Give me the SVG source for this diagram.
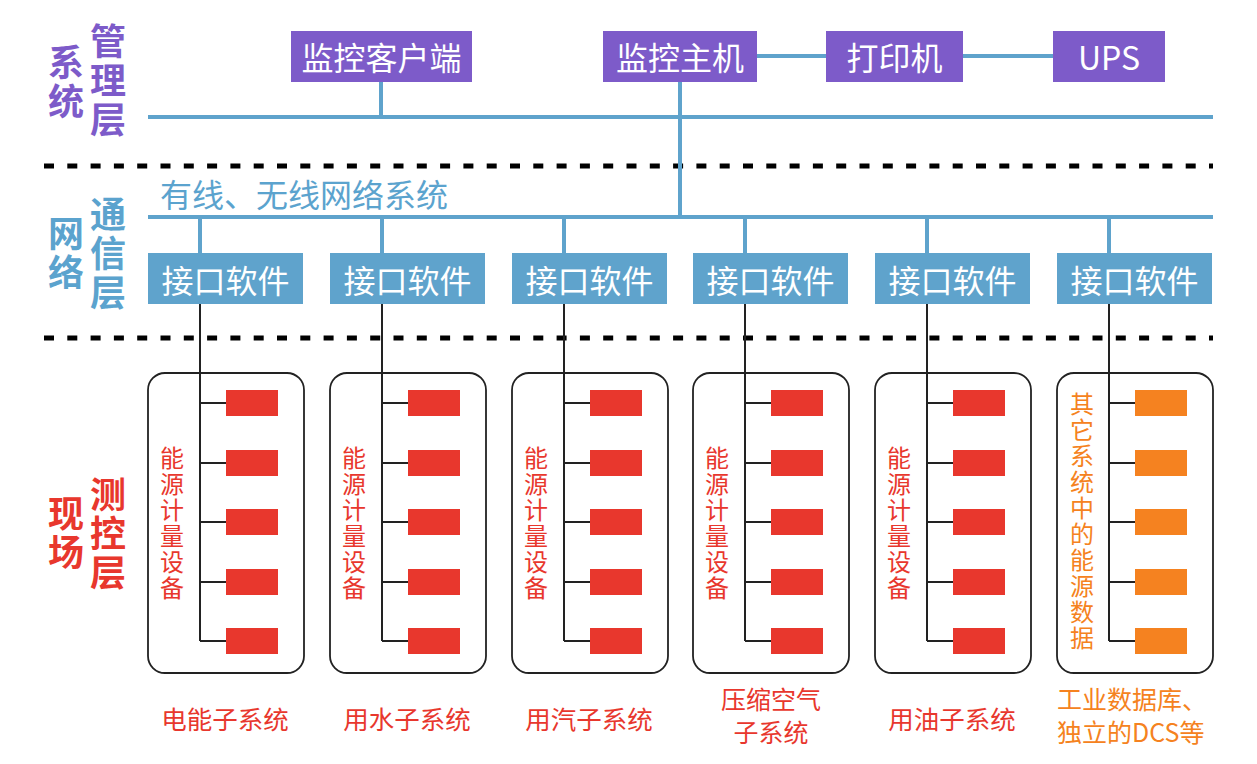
<svg xmlns="http://www.w3.org/2000/svg" width="1257" height="764" viewBox="0 0 1257 764">
<style>
text{font-family:"Noto Sans CJK SC","Noto Sans",sans-serif;}
.layer{font-size:36px;font-weight:bold;writing-mode:vertical-rl;letter-spacing:3px;}
.purple{fill:#7D5BC9;}
.blue{fill:#5BA3CE;}
.red{fill:#E8372D;}
.orange{fill:#F58220;}
.pbox{fill:#7D5BC9;}
.bbox{fill:#5FA3CC;}
.btxt{font-size:32px;fill:#fff;text-anchor:middle;dominant-baseline:central;}
.bus{stroke:#5FA3CC;stroke-width:4;fill:none;}
.dash{stroke:#000;stroke-width:5;stroke-dasharray:10 13.3;fill:none;}
.wire{stroke:#222;stroke-width:2;fill:none;}
.frame{fill:none;stroke:#222;stroke-width:1.8;}
.dev{fill:#E8372D;}
.dev2{fill:#F58220;}
.vt{font-size:24px;writing-mode:vertical-rl;letter-spacing:2px;}
.lbl{font-size:25.5px;text-anchor:middle;dominant-baseline:central;}
</style>
<defs>
<g id="devs">
<rect class="dev" x="226" y="390" width="52" height="26"/>
<rect class="dev" x="226" y="450" width="52" height="26"/>
<rect class="dev" x="226" y="509" width="52" height="26"/>
<rect class="dev" x="226" y="569" width="52" height="26"/>
<rect class="dev" x="226" y="628" width="52" height="26"/>
</g>
<g id="devs2">
<rect class="dev2" x="226" y="390" width="52" height="26"/>
<rect class="dev2" x="226" y="450" width="52" height="26"/>
<rect class="dev2" x="226" y="509" width="52" height="26"/>
<rect class="dev2" x="226" y="569" width="52" height="26"/>
<rect class="dev2" x="226" y="628" width="52" height="26"/>
</g>
<path id="tree" class="wire" d="M200 304 V641 M200 403 H226 M200 463 H226 M200 522 H226 M200 582 H226 M200 641 H226"/>
<g id="iface">
<rect class="bbox" x="148" y="253" width="155" height="51"/>
<text class="btxt" x="225.5" y="279">接口软件</text>
</g>
<text id="vtext" class="vt red" x="172" y="446">能源计量设备</text>
</defs>

<g id="layer-labels">
<text class="layer purple" x="108" y="23">管理层</text>
<text class="layer purple" x="66" y="44">系统</text>
<text class="layer blue" x="108" y="196">通信层</text>
<text class="layer blue" x="66" y="215">网络</text>
<text class="layer red" x="108" y="476">测控层</text>
<text class="layer red" x="66" y="495">现场</text>
</g>

<g id="separators">
<line class="dash" x1="44" y1="166" x2="1213" y2="166"/>
<line class="dash" x1="44" y1="338" x2="1213" y2="338"/>
</g>

<g id="connectors">
<line class="bus" x1="148" y1="117" x2="1213" y2="117"/>
<line class="bus" x1="148" y1="217" x2="1213" y2="217"/>
<line class="bus" x1="381" y1="82" x2="381" y2="117"/>
<line class="bus" x1="680" y1="82" x2="680" y2="217"/>
<line class="bus" x1="757" y1="56" x2="826" y2="56"/>
<line class="bus" x1="963" y1="56" x2="1053" y2="56"/>
<line class="bus" x1="200" y1="217" x2="200" y2="253"/>
<line class="bus" x1="382" y1="217" x2="382" y2="253"/>
<line class="bus" x1="564" y1="217" x2="564" y2="253"/>
<line class="bus" x1="745" y1="217" x2="745" y2="253"/>
<line class="bus" x1="927" y1="217" x2="927" y2="253"/>
<line class="bus" x1="1109" y1="217" x2="1109" y2="253"/>
<use href="#tree"/>
<use href="#tree" transform="translate(182,0)"/>
<use href="#tree" transform="translate(364,0)"/>
<use href="#tree" transform="translate(545,0)"/>
<use href="#tree" transform="translate(727,0)"/>
<use href="#tree" transform="translate(909,0)"/>
</g>

<g id="node-client">
<rect class="pbox" x="291" y="31" width="181" height="51"/>
<text class="btxt" x="381.5" y="56">监控客户端</text>
</g>
<g id="node-host">
<rect class="pbox" x="603" y="31" width="154" height="51"/>
<text class="btxt" x="680" y="56">监控主机</text>
</g>
<g id="node-printer">
<rect class="pbox" x="826" y="31" width="137" height="51"/>
<text class="btxt" x="894.5" y="56">打印机</text>
</g>
<g id="node-ups">
<rect class="pbox" x="1053" y="31" width="112" height="51"/>
<text class="btxt" x="1109" y="56">UPS</text>
</g>

<g id="network-label">
<text class="blue" x="160" y="193" font-size="32" dominant-baseline="central">有线、无线网络系统</text>
</g>

<g id="col-electric">
<use href="#iface"/>
<rect class="frame" x="148" y="373" width="156" height="300" rx="17"/>
<use href="#devs"/>
<use href="#vtext"/>
<text class="lbl red" x="225" y="717">电能子系统</text>
</g>
<g id="col-water" transform="translate(182,0)">
<use href="#iface"/>
<rect class="frame" x="148" y="373" width="156" height="300" rx="17"/>
<use href="#devs"/>
<use href="#vtext"/>
<text class="lbl red" x="225" y="717">用水子系统</text>
</g>
<g id="col-steam" transform="translate(364,0)">
<use href="#iface"/>
<rect class="frame" x="148" y="373" width="156" height="300" rx="17"/>
<use href="#devs"/>
<use href="#vtext"/>
<text class="lbl red" x="225" y="717">用汽子系统</text>
</g>
<g id="col-air" transform="translate(545,0)">
<use href="#iface"/>
<rect class="frame" x="148" y="373" width="156" height="300" rx="17"/>
<use href="#devs"/>
<use href="#vtext"/>
<text class="red" font-size="25" text-anchor="middle" dominant-baseline="central"><tspan x="226" y="698">压缩空气</tspan><tspan x="226" y="731">子系统</tspan></text>
</g>
<g id="col-oil" transform="translate(727,0)">
<use href="#iface"/>
<rect class="frame" x="148" y="373" width="156" height="300" rx="17"/>
<use href="#devs"/>
<use href="#vtext"/>
<text class="lbl red" x="225" y="717">用油子系统</text>
</g>
<g id="col-other" transform="translate(909,0)">
<use href="#iface"/>
<rect class="frame" x="148" y="373" width="156" height="300" rx="17"/>
<use href="#devs2"/>
<text class="vt orange" x="173" y="392">其它系统中的能源数据</text>
<text class="orange" font-size="25" dominant-baseline="central"><tspan x="148" y="698">工业数据库、</tspan><tspan x="148" y="731">独立的DCS等</tspan></text>
</g>
</svg>
